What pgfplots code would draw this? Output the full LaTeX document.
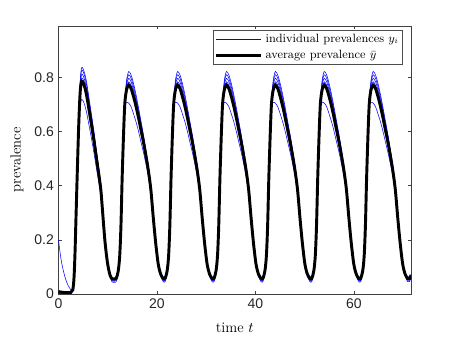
\documentclass[border=0pt]{standalone}
\usepackage{fontspec}
\setsansfont{Liberation Sans}
\usepackage{pgfplots}
\usepackage{pgfplotstable}
\pgfplotsset{compat=1.18}

% t, average b, individual y1..y6
\pgfplotstableread{
t     b     y1    y2    y3    y4    y5    y6
0.00  0.009 0.003 0.003 0.200 0.003 0.003 0.003
0.50  0.007 0.003 0.003 0.130 0.003 0.003 0.003
1.00  0.006 0.003 0.003 0.085 0.003 0.003 0.003
1.50  0.005 0.003 0.003 0.052 0.003 0.003 0.003
2.00  0.005 0.003 0.003 0.030 0.003 0.003 0.003
2.50  0.006 0.004 0.004 0.016 0.004 0.004 0.004
2.90  0.015 0.013 0.013 0.015 0.014 0.015 0.016
3.15  0.060 0.058 0.058 0.059 0.059 0.060 0.061
3.35  0.150 0.148 0.149 0.150 0.150 0.151 0.152
3.55  0.280 0.280 0.280 0.280 0.280 0.280 0.280
3.80  0.440 0.440 0.440 0.440 0.440 0.440 0.440
4.10  0.620 0.635 0.632 0.628 0.624 0.619 0.600
4.40  0.745 0.785 0.777 0.765 0.755 0.743 0.691
4.71  0.786 0.836 0.826 0.811 0.798 0.783 0.719
5.20  0.772 0.822 0.812 0.797 0.784 0.769 0.705
5.70  0.735 0.783 0.773 0.759 0.746 0.732 0.671
6.20  0.680 0.723 0.714 0.701 0.690 0.677 0.623
6.74  0.620 0.658 0.650 0.639 0.629 0.618 0.570
7.25  0.560 0.593 0.586 0.576 0.568 0.558 0.516
7.75  0.496 0.524 0.518 0.510 0.503 0.494 0.459
8.20  0.440 0.463 0.458 0.451 0.445 0.439 0.410
8.60  0.385 0.404 0.400 0.394 0.389 0.384 0.360
8.90  0.317 0.331 0.328 0.324 0.320 0.316 0.298
9.44  0.194 0.202 0.200 0.198 0.196 0.194 0.184
9.95  0.115 0.118 0.117 0.116 0.116 0.115 0.110
10.46 0.070 0.066 0.067 0.068 0.069 0.071 0.070
10.90 0.056 0.044 0.048 0.051 0.054 0.058 0.059
11.30 0.055 0.043 0.047 0.050 0.053 0.057 0.058
11.73 0.058 0.046 0.050 0.053 0.056 0.060 0.061
12.13 0.085 0.078 0.080 0.082 0.084 0.086 0.087
12.43 0.140 0.138 0.138 0.139 0.140 0.140 0.141
12.68 0.250 0.250 0.250 0.250 0.250 0.250 0.250
12.93 0.430 0.430 0.430 0.430 0.430 0.430 0.430
13.23 0.600 0.603 0.602 0.601 0.601 0.600 0.597
13.48 0.706 0.716 0.714 0.711 0.708 0.705 0.693
13.83 0.755 0.790 0.782 0.773 0.763 0.752 0.708
14.26 0.772 0.822 0.810 0.797 0.784 0.767 0.705
14.76 0.758 0.808 0.796 0.783 0.770 0.753 0.691
15.26 0.728 0.776 0.764 0.752 0.739 0.723 0.664
15.76 0.692 0.735 0.724 0.713 0.702 0.688 0.635
16.26 0.650 0.688 0.679 0.669 0.659 0.646 0.600
16.76 0.605 0.638 0.630 0.621 0.613 0.602 0.561
17.26 0.560 0.588 0.581 0.574 0.567 0.557 0.523
17.76 0.510 0.533 0.527 0.521 0.515 0.508 0.480
18.26 0.455 0.473 0.468 0.464 0.459 0.453 0.432
18.76 0.385 0.398 0.395 0.391 0.388 0.384 0.368
19.26 0.280 0.288 0.286 0.284 0.282 0.279 0.270
19.76 0.185 0.190 0.189 0.188 0.186 0.185 0.178
20.26 0.110 0.110 0.110 0.110 0.110 0.110 0.107
20.76 0.073 0.066 0.068 0.070 0.072 0.074 0.075
21.26 0.058 0.046 0.050 0.053 0.056 0.060 0.061
21.66 0.058 0.046 0.050 0.053 0.056 0.060 0.061
22.06 0.085 0.078 0.080 0.082 0.084 0.086 0.087
22.36 0.140 0.138 0.138 0.139 0.140 0.140 0.141
22.61 0.250 0.250 0.250 0.250 0.250 0.250 0.250
22.86 0.430 0.430 0.430 0.430 0.430 0.430 0.430
23.16 0.600 0.603 0.602 0.601 0.601 0.600 0.597
23.41 0.706 0.716 0.714 0.711 0.708 0.705 0.693
23.76 0.755 0.790 0.782 0.773 0.763 0.752 0.708
24.19 0.772 0.822 0.810 0.797 0.784 0.767 0.705
24.69 0.758 0.808 0.796 0.783 0.770 0.753 0.691
25.19 0.728 0.776 0.764 0.752 0.739 0.723 0.664
25.69 0.692 0.735 0.724 0.713 0.702 0.688 0.635
26.19 0.650 0.688 0.679 0.669 0.659 0.646 0.600
26.69 0.605 0.638 0.630 0.621 0.613 0.602 0.561
27.19 0.560 0.588 0.581 0.574 0.567 0.557 0.523
27.69 0.510 0.533 0.527 0.521 0.515 0.508 0.480
28.19 0.455 0.473 0.468 0.464 0.459 0.453 0.432
28.69 0.385 0.398 0.395 0.391 0.388 0.384 0.368
29.19 0.280 0.288 0.286 0.284 0.282 0.279 0.270
29.69 0.185 0.190 0.189 0.188 0.186 0.185 0.178
30.19 0.110 0.110 0.110 0.110 0.110 0.110 0.107
30.69 0.073 0.066 0.068 0.070 0.072 0.074 0.075
31.19 0.058 0.046 0.050 0.053 0.056 0.060 0.061
31.59 0.058 0.046 0.050 0.053 0.056 0.060 0.061
31.99 0.085 0.078 0.080 0.082 0.084 0.086 0.087
32.29 0.140 0.138 0.138 0.139 0.140 0.140 0.141
32.54 0.250 0.250 0.250 0.250 0.250 0.250 0.250
32.79 0.430 0.430 0.430 0.430 0.430 0.430 0.430
33.09 0.600 0.603 0.602 0.601 0.601 0.600 0.597
33.34 0.706 0.716 0.714 0.711 0.708 0.705 0.693
33.69 0.755 0.790 0.782 0.773 0.763 0.752 0.708
34.12 0.772 0.822 0.810 0.797 0.784 0.767 0.705
34.62 0.758 0.808 0.796 0.783 0.770 0.753 0.691
35.12 0.728 0.776 0.764 0.752 0.739 0.723 0.664
35.62 0.692 0.735 0.724 0.713 0.702 0.688 0.635
36.12 0.650 0.688 0.679 0.669 0.659 0.646 0.600
36.62 0.605 0.638 0.630 0.621 0.613 0.602 0.561
37.12 0.560 0.588 0.581 0.574 0.567 0.557 0.523
37.62 0.510 0.533 0.527 0.521 0.515 0.508 0.480
38.12 0.455 0.473 0.468 0.464 0.459 0.453 0.432
38.62 0.385 0.398 0.395 0.391 0.388 0.384 0.368
39.12 0.280 0.288 0.286 0.284 0.282 0.279 0.270
39.62 0.185 0.190 0.189 0.188 0.186 0.185 0.178
40.12 0.110 0.110 0.110 0.110 0.110 0.110 0.107
40.62 0.073 0.066 0.068 0.070 0.072 0.074 0.075
41.12 0.058 0.046 0.050 0.053 0.056 0.060 0.061
41.52 0.058 0.046 0.050 0.053 0.056 0.060 0.061
41.92 0.085 0.078 0.080 0.082 0.084 0.086 0.087
42.22 0.140 0.138 0.138 0.139 0.140 0.140 0.141
42.47 0.250 0.250 0.250 0.250 0.250 0.250 0.250
42.72 0.430 0.430 0.430 0.430 0.430 0.430 0.430
43.02 0.600 0.603 0.602 0.601 0.601 0.600 0.597
43.27 0.706 0.716 0.714 0.711 0.708 0.705 0.693
43.62 0.755 0.790 0.782 0.773 0.763 0.752 0.708
44.05 0.772 0.822 0.810 0.797 0.784 0.767 0.705
44.55 0.758 0.808 0.796 0.783 0.770 0.753 0.691
45.05 0.728 0.776 0.764 0.752 0.739 0.723 0.664
45.55 0.692 0.735 0.724 0.713 0.702 0.688 0.635
46.05 0.650 0.688 0.679 0.669 0.659 0.646 0.600
46.55 0.605 0.638 0.630 0.621 0.613 0.602 0.561
47.05 0.560 0.588 0.581 0.574 0.567 0.557 0.523
47.55 0.510 0.533 0.527 0.521 0.515 0.508 0.480
48.05 0.455 0.473 0.468 0.464 0.459 0.453 0.432
48.55 0.385 0.398 0.395 0.391 0.388 0.384 0.368
49.05 0.280 0.288 0.286 0.284 0.282 0.279 0.270
49.55 0.185 0.190 0.189 0.188 0.186 0.185 0.178
50.05 0.110 0.110 0.110 0.110 0.110 0.110 0.107
50.55 0.073 0.066 0.068 0.070 0.072 0.074 0.075
51.05 0.058 0.046 0.050 0.053 0.056 0.060 0.061
51.45 0.058 0.046 0.050 0.053 0.056 0.060 0.061
51.85 0.085 0.078 0.080 0.082 0.084 0.086 0.087
52.15 0.140 0.138 0.138 0.139 0.140 0.140 0.141
52.40 0.250 0.250 0.250 0.250 0.250 0.250 0.250
52.65 0.430 0.430 0.430 0.430 0.430 0.430 0.430
52.95 0.600 0.603 0.602 0.601 0.601 0.600 0.597
53.20 0.706 0.716 0.714 0.711 0.708 0.705 0.693
53.55 0.755 0.790 0.782 0.773 0.763 0.752 0.708
53.98 0.772 0.822 0.810 0.797 0.784 0.767 0.705
54.48 0.758 0.808 0.796 0.783 0.770 0.753 0.691
54.98 0.728 0.776 0.764 0.752 0.739 0.723 0.664
55.48 0.692 0.735 0.724 0.713 0.702 0.688 0.635
55.98 0.650 0.688 0.679 0.669 0.659 0.646 0.600
56.48 0.605 0.638 0.630 0.621 0.613 0.602 0.561
56.98 0.560 0.588 0.581 0.574 0.567 0.557 0.523
57.48 0.510 0.533 0.527 0.521 0.515 0.508 0.480
57.98 0.455 0.473 0.468 0.464 0.459 0.453 0.432
58.48 0.385 0.398 0.395 0.391 0.388 0.384 0.368
58.98 0.280 0.288 0.286 0.284 0.282 0.279 0.270
59.48 0.185 0.190 0.189 0.188 0.186 0.185 0.178
59.98 0.110 0.110 0.110 0.110 0.110 0.110 0.107
60.48 0.073 0.066 0.068 0.070 0.072 0.074 0.075
60.98 0.058 0.046 0.050 0.053 0.056 0.060 0.061
61.38 0.058 0.046 0.050 0.053 0.056 0.060 0.061
61.78 0.085 0.078 0.080 0.082 0.084 0.086 0.087
62.08 0.140 0.138 0.138 0.139 0.140 0.140 0.141
62.33 0.250 0.250 0.250 0.250 0.250 0.250 0.250
62.58 0.430 0.430 0.430 0.430 0.430 0.430 0.430
62.88 0.600 0.603 0.602 0.601 0.601 0.600 0.597
63.13 0.706 0.716 0.714 0.711 0.708 0.705 0.693
63.48 0.755 0.790 0.782 0.773 0.763 0.752 0.708
63.91 0.772 0.822 0.810 0.797 0.784 0.767 0.705
64.41 0.758 0.808 0.796 0.783 0.770 0.753 0.691
64.91 0.728 0.776 0.764 0.752 0.739 0.723 0.664
65.41 0.692 0.735 0.724 0.713 0.702 0.688 0.635
65.91 0.650 0.688 0.679 0.669 0.659 0.646 0.600
66.41 0.605 0.638 0.630 0.621 0.613 0.602 0.561
66.91 0.560 0.588 0.581 0.574 0.567 0.557 0.523
67.41 0.510 0.533 0.527 0.521 0.515 0.508 0.480
67.91 0.455 0.473 0.468 0.464 0.459 0.453 0.432
68.41 0.385 0.398 0.395 0.391 0.388 0.384 0.368
68.91 0.280 0.288 0.286 0.284 0.282 0.279 0.270
69.41 0.185 0.190 0.189 0.188 0.186 0.185 0.178
69.91 0.110 0.110 0.110 0.110 0.110 0.110 0.107
70.41 0.073 0.066 0.068 0.070 0.072 0.074 0.075
70.91 0.058 0.046 0.050 0.053 0.056 0.060 0.061
71.31 0.058 0.046 0.050 0.053 0.056 0.060 0.061
71.60 0.070 0.060 0.062 0.065 0.068 0.071 0.072
}\prevdata

\begin{document}
\begin{tikzpicture}
\useasboundingbox (-43.875pt,-35.25pt) rectangle (296.625pt,220.5pt);
\begin{axis}[
    scale only axis,
    width=264.4pt, height=201pt,
    xmin=0, xmax=71.6, ymin=0, ymax=0.99,
    xtick={0,20,40,60},
    ytick={0,0.2,0.4,0.6,0.8},
    tick align=inside,
    major tick length=2.6pt,
    axis line style={draw=black!75},
    every tick/.style={black!75},
    /pgf/number format/assume math mode=true,
    tick label style={font=\sffamily\fontsize{10.5}{12}\selectfont, text=black!85},
    label style={font=\fontsize{11}{13}\selectfont},
    xlabel={time $t$},
    ylabel={prevalence},
    xlabel style={at={(axis description cs:0.5,-0.127)}, anchor=center},
    ylabel style={at={(axis description cs:-0.118,0.5)}, anchor=center},
    legend style={at={(0.977,0.985)}, anchor=north east,
        font=\fontsize{9}{10}\selectfont, draw=black!70,
        inner sep=1pt, row sep=0pt, cells={anchor=west}},
    legend image code/.code={\draw[#1] (0cm,0cm) -- (1.2cm,0cm);},
]
\addplot[blue, line width=0.4pt, smooth] table[x=t, y=y1] {\prevdata};
\addlegendentry{individual prevalences $y_i$}
\addplot[blue, line width=0.4pt, smooth, forget plot] table[x=t, y=y2] {\prevdata};
\addplot[blue, line width=0.4pt, smooth, forget plot] table[x=t, y=y3] {\prevdata};
\addplot[blue, line width=0.4pt, smooth, forget plot] table[x=t, y=y4] {\prevdata};
\addplot[blue, line width=0.4pt, smooth, forget plot] table[x=t, y=y5] {\prevdata};
\addplot[blue, line width=0.4pt, smooth, forget plot] table[x=t, y=y6] {\prevdata};
\addplot[black, line width=2.2pt, smooth] table[x=t, y=b] {\prevdata};
\addlegendentry{average prevalence $\bar{y}$}
\end{axis}
\end{tikzpicture}
\end{document}
